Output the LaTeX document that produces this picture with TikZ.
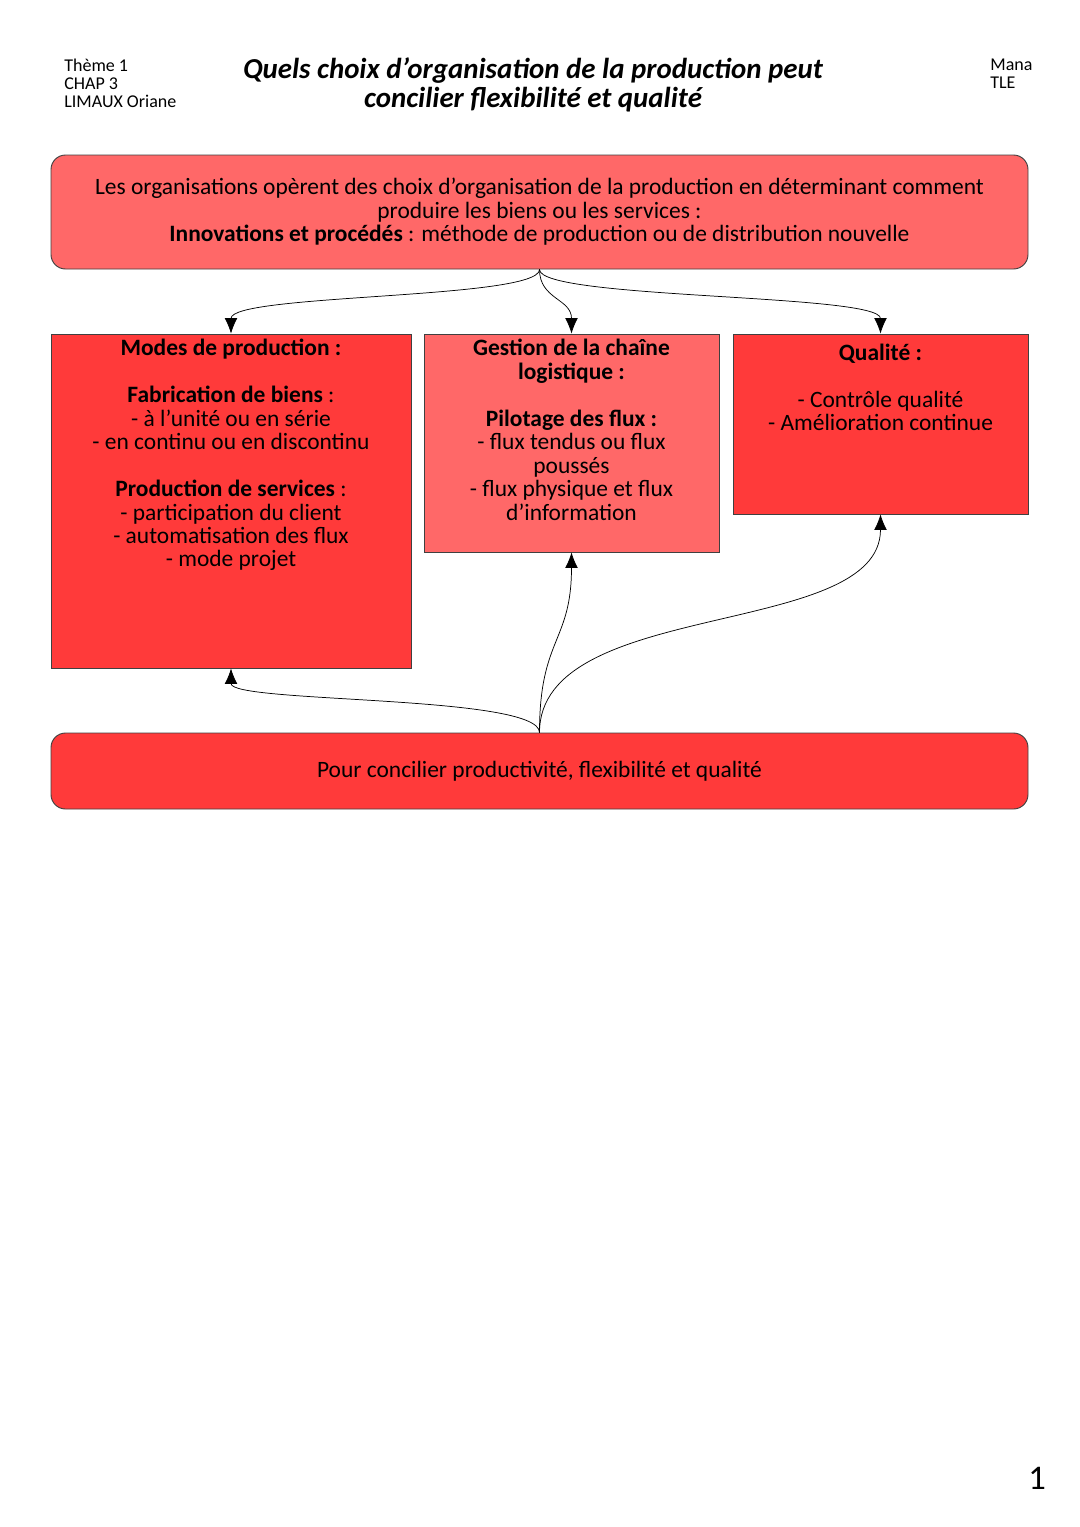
\documentclass[tikz,border=0pt]{standalone}
\usepackage{fontspec}
\setmainfont{Carlito}
\usetikzlibrary{arrows.meta,positioning,fit}
\definecolor{rougeclair}{HTML}{FF6868}
\definecolor{rougevif}{HTML}{FF3A3A}
\begin{document}
\begin{tikzpicture}[x=0.55pt,y=-0.55pt]
\tikzstyle{boite} = [draw=black!75,line width=0.5pt,inner sep=0pt];
\tikzstyle{cadre} = [boite,rounded corners=8pt];
\tikzstyle{corps} = [align=center,inner sep=0pt,font=\fontsize{12.9}{12.9}\selectfont];
\tikzstyle{entete} = [align=left,inner sep=0pt,font=\fontsize{9.9}{9.9}\selectfont];
\tikzstyle{fleche} = [-{Latex[length=8.5pt,width=7pt]},line width=0.4pt];
\useasboundingbox (0,0) rectangle (1080,1527);

\node[entete,anchor=north west] (theme) at (64,59) {Thème 1\\CHAP 3\\LIMAUX Oriane};
\node[entete,anchor=north west] (classe) at (990,59) {Mana\\TLE};
\node[align=center,font=\fontsize{15.9}{16}\selectfont\bfseries\itshape] (titre) at (533,85) {Quels choix d’organisation de la production peut\\concilier flexibilité et qualité};

\node[cadre,fill=rougeclair,fit={(51,155) (1028,269)}] (haut) {};
\node[corps] (thaut) at (haut.center) {Les organisations opèrent des choix d’organisation de la production en déterminant comment\\produire les biens ou les services :\\\textbf{Innovations et procédés} : méthode de production ou de distribution nouvelle};

\node[boite,fill=rougevif,fit={(51,334) (411,668)}] (modes) {};
\node[corps,below=3pt of modes.north] (tmodes) {\textbf{Modes de production :}\\[12.9pt]
\textbf{Fabrication de biens} :\\- à l’unité ou en série\\- en continu ou en discontinu\\[12.9pt]
\textbf{Production de services} :\\- participation du client\\- automatisation des flux\\- mode projet};

\node[boite,fill=rougeclair,fit={(424,334) (719,552)}] (gestion) {};
\node[corps,below=3pt of gestion.north] (tgestion) {\textbf{Gestion de la chaîne}\\\textbf{logistique :}\\[12.9pt]
\textbf{Pilotage des flux :}\\- flux tendus ou flux\\poussés\\- flux physique et flux\\d’information};

\node[boite,fill=rougevif,fit={(733,334) (1028,514)}] (qualite) {};
\node[corps,below=5.5pt of qualite.north] (tqualite) {\textbf{Qualité :}\\[12.9pt]- Contrôle qualité\\- Amélioration continue};

\node[cadre,fill=rougevif,fit={(51,733) (1028,809)}] (bas) {};
\node[corps] (tbas) at (bas.center) {Pour concilier productivité, flexibilité et qualité};

\draw[fleche] (haut.south) .. controls +(0,30) and +(0,-40) .. (modes.north);
\draw[fleche] (haut.south) .. controls +(0,30) and +(0,-35) .. (gestion.north);
\draw[fleche] (haut.south) .. controls +(0,30) and +(0,-40) .. (qualite.north);

\draw[fleche] (bas.north) .. controls +(0,-38) and +(0,35) .. (modes.south);
\draw[fleche] (bas.north) .. controls +(0,-95) and +(0,90) .. (gestion.south);
\draw[fleche] (bas.north) .. controls +(0,-135) and +(0,125) .. (qualite.south);

\node[font=\fontsize{19}{22}\selectfont] (page) at (1037,1478) {1};
\end{tikzpicture}
\end{document}
